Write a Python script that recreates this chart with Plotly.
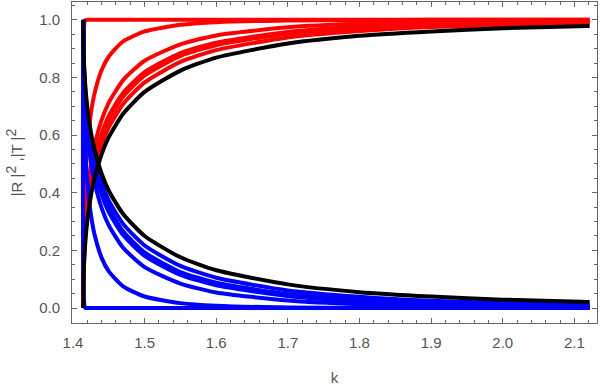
import plotly.graph_objs as go


# wave number grid (k from sqrt(2) up to 1.5*sqrt(2))
k = [1.4142, 1.415, 1.417, 1.42, 1.425, 1.43, 1.44, 1.45, 1.47, 1.5,
     1.55, 1.6, 1.7, 1.8, 1.9, 2.0, 2.1213]

# transmission |T|^2, one list per curve (red), sharp step in black
T_a = [0, 0.96, 0.999, 1, 1, 1, 1, 1, 1, 1, 1, 1, 1, 1, 1, 1, 1]
T_b = [0, 0.262, 0.435, 0.561, 0.676, 0.744, 0.826, 0.873, 0.925, 0.960,
       0.983, 0.992, 0.998, 0.999, 1.0, 1.0, 1.0]
T_c = [0, 0.168, 0.293, 0.394, 0.495, 0.563, 0.653, 0.713, 0.791, 0.858,
       0.915, 0.946, 0.974, 0.987, 0.993, 0.996, 0.998]
T_d = [0, 0.150, 0.264, 0.357, 0.452, 0.518, 0.606, 0.667, 0.747, 0.819,
       0.885, 0.921, 0.958, 0.976, 0.985, 0.990, 0.994]
T_e = [0, 0.146, 0.256, 0.347, 0.441, 0.505, 0.593, 0.653, 0.734, 0.807,
       0.875, 0.912, 0.952, 0.971, 0.982, 0.988, 0.992]
T_f = [0, 0.136, 0.241, 0.328, 0.418, 0.481, 0.567, 0.627, 0.708, 0.783,
       0.854, 0.895, 0.939, 0.961, 0.975, 0.982, 0.988]
T_step = [0, 0.125, 0.222, 0.304, 0.390, 0.450, 0.534, 0.593, 0.674, 0.750,
          0.824, 0.869, 0.918, 0.945, 0.960, 0.971, 0.979]

# reflection |R|^2 (blue), sharp step in black
R_a = [1, 0.04, 0.001, 0, 0, 0, 0, 0, 0, 0, 0, 0, 0, 0, 0, 0, 0]
R_b = [1, 0.738, 0.565, 0.439, 0.324, 0.256, 0.174, 0.127, 0.075, 0.040,
       0.017, 0.008, 0.002, 0.001, 0, 0, 0]
R_c = [1, 0.832, 0.707, 0.606, 0.505, 0.437, 0.347, 0.287, 0.209, 0.142,
       0.085, 0.054, 0.026, 0.013, 0.007, 0.004, 0.002]
R_d = [1, 0.850, 0.736, 0.643, 0.548, 0.482, 0.394, 0.333, 0.253, 0.181,
       0.115, 0.079, 0.042, 0.024, 0.015, 0.010, 0.006]
R_e = [1, 0.854, 0.744, 0.653, 0.559, 0.495, 0.407, 0.347, 0.266, 0.193,
       0.125, 0.088, 0.048, 0.029, 0.018, 0.012, 0.008]
R_f = [1, 0.864, 0.759, 0.672, 0.582, 0.519, 0.433, 0.373, 0.292, 0.217,
       0.146, 0.105, 0.061, 0.039, 0.025, 0.018, 0.012]
R_step = [1, 0.875, 0.778, 0.696, 0.610, 0.550, 0.466, 0.407, 0.326, 0.250,
          0.176, 0.131, 0.082, 0.055, 0.040, 0.029, 0.021]

x_ticks = [1.4, 1.5, 1.6, 1.7, 1.8, 1.9, 2.0, 2.1]
y_ticks = [0.0, 0.2, 0.4, 0.6, 0.8, 1.0]

GREY = '#666666'
LABEL = '#555555'

# superscripts drawn almost full size, as in the original
SUP2 = '<sup><span style="font-size:14px">2</span></sup>'
y_title = '|R |' + SUP2 + ' ,|T |' + SUP2


def curve(y, color):
    return go.Scatter(
        x=k,
        y=y,
        mode='lines',
        line=dict(
            color=color,
            width=4,
            shape='spline',
            smoothing=0.6),
        hoverinfo='skip',
    )


traces = []
for y in [T_a, T_b, T_c, T_d, T_e, T_f]:
    traces.append(curve(y, '#ff0000'))
for y in [R_a, R_b, R_c, R_d, R_e, R_f]:
    traces.append(curve(y, '#0000ff'))
traces.append(curve(T_step, 'black'))
traces.append(curve(R_step, 'black'))

axis_common = dict(
    showline=True,
    linecolor=GREY,
    linewidth=1,
    mirror='allticks',
    ticks='inside',
    tickcolor=GREY,
    showgrid=False,
    zeroline=False,
    tickfont=dict(size=15, color=LABEL),
)

fig = go.Figure(
    data=traces,
    layout=go.Layout(
        width=600,
        height=390,
        showlegend=False,
        plot_bgcolor='white',
        paper_bgcolor='white',
        font=dict(family='Liberation Sans, Arial, sans-serif', color=LABEL),
        margin=dict(l=72, r=3, t=2, b=67),
        xaxis=dict(
            range=[1.3986, 2.1316],
            tickvals=x_ticks,
            tickformat='.1f',
            ticklen=5,
            ticklabelstandoff=6,
            minor=dict(dtick=0.02, tick0=1.4, ticks='inside', ticklen=3, tickcolor=GREY),
            title=dict(text='k', standoff=22, font=dict(size=15, color=LABEL)),
            **axis_common
        ),
        yaxis=dict(
            range=[-0.052, 1.062],
            tickvals=y_ticks,
            tickformat='.1f',
            ticklen=5,
            ticklabelstandoff=8,
            minor=dict(dtick=0.05, tick0=0, ticks='inside', ticklen=3, tickcolor=GREY),
            title=dict(text=y_title, standoff=12,
                       font=dict(size=15, color=LABEL)),
            **axis_common
        ),
    )
)

# drop the default page margin so the 600x390 figure sits at the window origin
fig.write_html('out.html', config={'displayModeBar': False},
               post_script="document.body.style.margin='0';")
